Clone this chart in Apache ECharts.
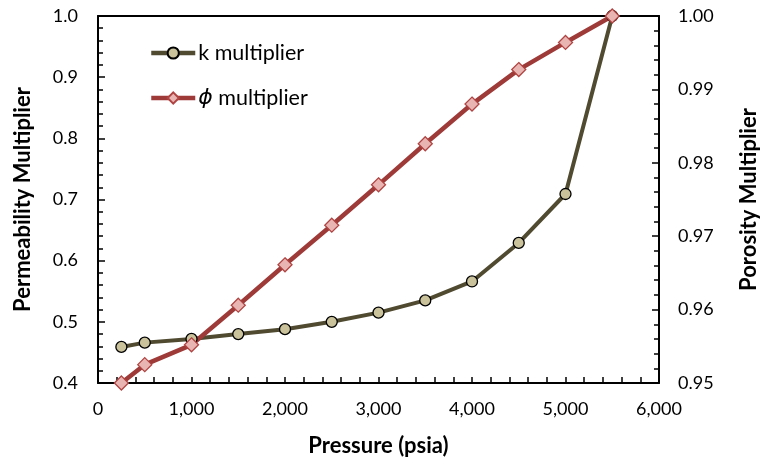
<!DOCTYPE html>
<html><head><meta charset="utf-8">
<script src="https://cdn.jsdelivr.net/npm/echarts@6/dist/echarts.min.js"></script>
<style>html,body{margin:0;padding:0;background:#fff}#c{width:768px;height:466px}</style>
</head><body><div id="c"></div>
<script>
const pressure = [250, 500, 1000, 1500, 2000, 2500, 3000, 3500, 4000, 4500, 5000, 5500];
const kMultiplier = [0.459, 0.466, 0.472, 0.480, 0.488, 0.500, 0.515, 0.535, 0.566, 0.629, 0.709, 1.000];
const phiMultiplier = [0.9500, 0.9525, 0.9552, 0.9606, 0.9661, 0.9715, 0.9770, 0.9826, 0.9880, 0.9927, 0.9964, 1.0000];
const xTicks = [0, 1000, 2000, 3000, 4000, 5000, 6000];
const leftTicks = [0.4, 0.5, 0.6, 0.7, 0.8, 0.9, 1.0];
const rightTicks = [0.95, 0.96, 0.97, 0.98, 0.99, 1.00];

const FONT = 'Lato';
const chart = echarts.init(document.getElementById('c'));
chart.setOption({
  animation: false,
  backgroundColor: '#fff',
  grid: {left: 98, right: 101, top: 16, bottom: 83},
  legend: {
    orient: 'vertical', left: 149, top: 42, padding: 0, itemWidth: 44, itemHeight: 14, itemGap: 23,
    textStyle: {color: '#000', fontFamily: FONT, fontSize: 21.5, padding: [0, 0, 0, -2],
      rich: {i: {fontStyle: 'italic', fontFamily: 'DejaVu Sans', fontSize: 22, color: '#000'}}},
    formatter: function (n) { return n === 'phi' ? '{i|ϕ} multiplier' : 'k multiplier'; },
    data: [
      {name: 'k', lineStyle: {width: 4.5, color: '#4f4a30'}},
      {name: 'phi', lineStyle: {width: 4.5, color: '#9e3a38'}}
    ]
  },
  xAxis: [
    {
      type: 'value', min: xTicks[0], max: xTicks[xTicks.length - 1], interval: 200,
      name: 'Pressure (psia)', nameLocation: 'middle', nameGap: 52,
      nameTextStyle: {color: '#000', fontFamily: FONT, fontSize: 22, fontWeight: 'bold'},
      axisLine: {show: true, onZero: false, lineStyle: {color: '#000', width: 2}},
      axisTick: {show: true, inside: true, length: 6, lineStyle: {color: '#000', width: 1.5}},
      axisLabel: {color: '#000', fontFamily: FONT, fontSize: 18, margin: 17, showMinLabel: true, showMaxLabel: true,
        interval: 0,
        formatter: v => (xTicks.indexOf(Math.round(v)) >= 0 ? Math.round(v).toLocaleString('en-US') : '')},
      splitLine: {show: false}
    },
    {
      type: 'value', position: 'top', min: xTicks[0], max: xTicks[xTicks.length - 1], interval: 1000,
      axisLine: {show: true, onZero: false, lineStyle: {color: '#000', width: 2}},
      axisTick: {show: false}, axisLabel: {show: false}, splitLine: {show: false}
    }
  ],
  yAxis: [
    {
      type: 'value', min: leftTicks[0], max: leftTicks[leftTicks.length - 1], interval: 0.1,
      name: 'Permeability Multiplier', nameLocation: 'middle', nameGap: 64,
      nameTextStyle: {color: '#000', fontFamily: FONT, fontSize: 22, fontWeight: 'bold'},
      axisLine: {show: true, onZero: false, lineStyle: {color: '#000', width: 2}},
      axisTick: {show: true, inside: true, length: 7, lineStyle: {color: '#000', width: 1.5}},
      minorTick: {show: true, splitNumber: 5, length: 5, lineStyle: {color: '#000', width: 1.5}},
      axisLabel: {color: '#000', fontFamily: FONT, fontSize: 18, margin: 20, formatter: v => v.toFixed(1)},
      splitLine: {show: false}
    },
    {
      type: 'value', position: 'right', min: rightTicks[0], max: rightTicks[rightTicks.length - 1], interval: 0.01,
      name: 'Porosity Multiplier', nameLocation: 'middle', nameGap: 79,
      nameTextStyle: {color: '#000', fontFamily: FONT, fontSize: 22, fontWeight: 'bold'},
      axisLine: {show: true, onZero: false, lineStyle: {color: '#000', width: 2}},
      axisTick: {show: true, inside: true, length: 7, lineStyle: {color: '#000', width: 1.5}},
      minorTick: {show: true, splitNumber: 5, length: 5, lineStyle: {color: '#000', width: 1.5}},
      axisLabel: {color: '#000', fontFamily: FONT, fontSize: 18, margin: 19, formatter: v => v.toFixed(2)},
      splitLine: {show: false}
    }
  ],
  series: [
    {
      name: 'k', type: 'line', xAxisIndex: 0, yAxisIndex: 0,
      data: pressure.map((p, i) => [p, kMultiplier[i]]),
      symbol: 'circle', symbolSize: 11,
      lineStyle: {color: '#4f4a30', width: 4},
      itemStyle: {color: '#c9c29a', borderColor: '#000', borderWidth: 1.3}
    },
    {
      name: 'phi', type: 'line', xAxisIndex: 0, yAxisIndex: 1,
      data: pressure.map((p, i) => [p, phiMultiplier[i]]),
      symbol: 'diamond', symbolSize: 14,
      lineStyle: {color: '#9e3a38', width: 4.5},
      itemStyle: {color: '#e9b5b3', borderColor: '#b04442', borderWidth: 1.3}
    }
  ]
});
</script></body></html>
